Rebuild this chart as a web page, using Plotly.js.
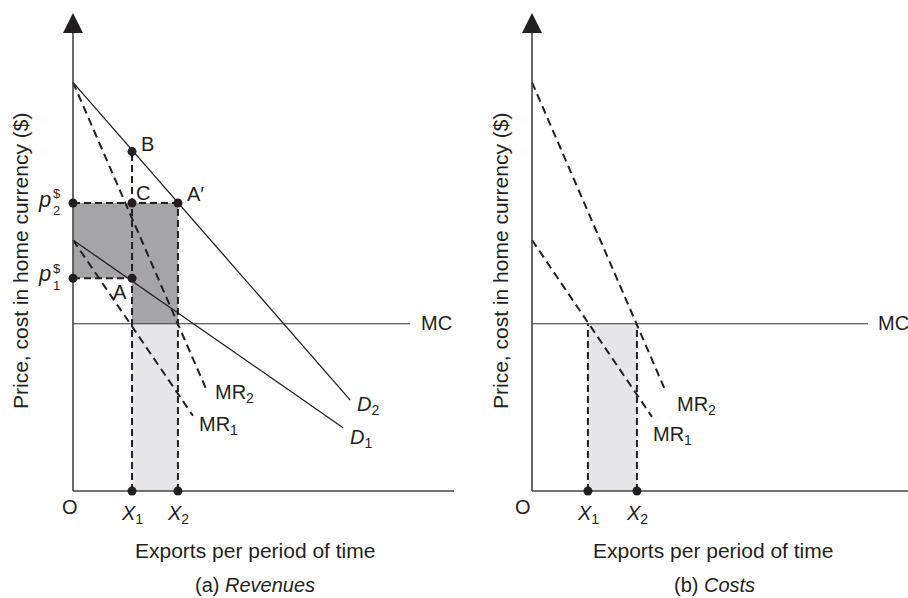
<!DOCTYPE html>
<html><head><meta charset="utf-8">
<script src="https://cdn.plot.ly/plotly-3.0.1.min.js"></script>
<style>html,body{margin:0;padding:0;background:#fff}#chart{width:908px;height:598px}</style>
</head><body><div id="chart"></div>
<script>
// ---------- data (diagram units) ----------
const axisTop = 20;          // length of price axis
const axisRight = 16;        // length of exports axis
const mcLevel = 7.0;         // marginal cost

// panel (a) Revenues
const aD2x = [0, 11.6],  aD2y = [17.1, 3.8];
const aD1x = [0, 11.3],  aD1y = [10.5, 2.65];
const aMR2x = [0, 5.6],  aMR2y = [17.1, 4.2];
const aMR1x = [0, 5.02], aMR1y = [10.5, 3.15];
const aMCx = [0, 14.1];
const aX1 = 2.47, aX2 = 4.39;
const p1 = 8.9, p2 = 12.05, pB = 14.2;

// panel (b) Costs
const bMR2x = [0, 5.56], bMR2y = [17.1, 4.25];
const bMR1x = [0, 5.02], bMR1y = [10.5, 3.1];
const bMCx = [0, 14.06];
const bX1 = 2.34, bX2 = 4.39;

// ---------- styling ----------
const W = 908, H = 598, K = 23.9;   // px per unit
const INK = '#231f20';
const FONT = 'Liberation Sans, Arial, Helvetica, sans-serif';
const DARK = '#a5a5a7', LIGHT = '#e6e6e8';

function solid(x, y, ax, w, c) {
  return {x, y, xaxis: ax[0], yaxis: ax[1], mode: 'lines', cliponaxis: false,
    line: {color: c || INK, width: w || 1.3}, hoverinfo: 'skip', showlegend: false};
}
function dashed(x, y, ax, dash) {
  return {x, y, xaxis: ax[0], yaxis: ax[1], mode: 'lines', cliponaxis: false,
    line: {color: INK, width: 2, dash: dash || '8px,5px'}, hoverinfo: 'skip', showlegend: false};
}
function fillPoly(x, y, ax, c) {
  return {x, y, xaxis: ax[0], yaxis: ax[1], mode: 'lines', fill: 'toself', fillcolor: c,
    line: {width: 0, color: c}, hoverinfo: 'skip', showlegend: false};
}
function dots(x, y, ax) {
  return {x, y, xaxis: ax[0], yaxis: ax[1], mode: 'markers', cliponaxis: false,
    marker: {color: INK, size: 9}, hoverinfo: 'skip', showlegend: false};
}
function axesTraces(ax) {
  return [
    {x: [0, 0, null, 0, axisRight], y: [axisTop - 0.5, 0, null, 0, 0], xaxis: ax[0], yaxis: ax[1],
      mode: 'lines', cliponaxis: false, line: {color: '#444', width: 1.6}, hoverinfo: 'skip', showlegend: false},
    {x: [0, axisRight], y: [axisTop, 0], xaxis: ax[0], yaxis: ax[1], mode: 'markers', cliponaxis: false,
      marker: {symbol: ['arrow-up', 'arrow-right'], size: 20, color: INK, line: {width: 0}},
      hoverinfo: 'skip', showlegend: false}
  ];
}

const A = ['x', 'y'], B = ['x2', 'y2'];
const traces = [
  // panel (a)
  fillPoly([aX1, aX2, aX2, aX1], [0, 0, mcLevel, mcLevel], A, LIGHT),
  fillPoly([0, aX2, aX2, aX1, aX1, 0], [p2, p2, mcLevel, mcLevel, p1, p1], A, DARK),
  solid(aMCx, [mcLevel, mcLevel], A, 1.1, '#333'),
  solid(aD2x, aD2y, A), solid(aD1x, aD1y, A),
  dashed(aMR2x, aMR2y, A), dashed(aMR1x, aMR1y, A),
  dashed([0, aX2, null, 0, aX1, null, aX1, aX1, null, aX2, aX2],
         [p2, p2, null, p1, p1, null, 0, pB, null, 0, p2], A, '7px,4px'),
  ...axesTraces(A),
  dots([0, aX1, aX2, 0, aX1, aX1, aX1, aX2], [p2, p2, p2, p1, p1, pB, 0, 0], A),
  // panel (b)
  fillPoly([bX1, bX2, bX2, bX1], [0, 0, mcLevel, mcLevel], B, LIGHT),
  solid(bMCx, [mcLevel, mcLevel], B, 1.1, '#333'),
  dashed(bMR2x, bMR2y, B), dashed(bMR1x, bMR1y, B),
  dashed([bX1, bX1, null, bX2, bX2], [0, mcLevel, null, 0, mcLevel], B, '7px,4px'),
  ...axesTraces(B),
  dots([bX1, bX2], [0, 0], B)
];

// annotations placed in page pixels
function T(text, px, py, size, xa, extra) {
  return Object.assign({text, xref: 'paper', yref: 'paper', x: px / W, y: 1 - py / H,
    xanchor: xa || 'center', yanchor: 'middle', showarrow: false,
    font: {family: FONT, size: size || 20, color: INK}}, extra || {});
}
function TX(text, xv, axName, py, size) {
  return {text, xref: axName, yref: 'paper', x: xv, y: 1 - py / H, xanchor: 'center', yanchor: 'middle',
    showarrow: false, font: {family: FONT, size: size || 20, color: INK}};
}

const annotations = [
  // panel (a)
  T('O', 70, 507, 20),
  TX('<i>X</i><sub>1</sub>', aX1, 'x', 514),
  TX('<i>X</i><sub>2</sub>', aX2, 'x', 514),
  T('B', 147, 144, 20), T('C', 143, 193, 20), T('A\u2032', 195, 194, 20), T('A', 120, 292, 20),
  T('<i>p</i>', 44, 199, 22, 'center', {borderpad: 0}),
  T('$<br>2', 56.5, 202, 13, 'center', {borderpad: 0}),
  T('<i>p</i>', 44, 274, 22, 'center', {borderpad: 0}),
  T('$<br>1', 56.5, 277, 13, 'center', {borderpad: 0}),
  T('MC', 419, 323, 20, 'left'),
  T('MR<sub>2</sub>', 213, 393, 20, 'left'),
  T('MR<sub>1</sub>', 197, 425, 20, 'left'),
  T('<i>D</i><sub>2</sub>', 355, 405, 20, 'left'),
  T('<i>D</i><sub>1</sub>', 348, 438, 20, 'left'),
  T('Exports per period of time', 255, 550, 21),
  T('(a) <i>Revenues</i>', 255, 585, 20),
  T('Price, cost in home currency ($)', 20, 261, 21, 'center', {textangle: -90}),
  // panel (b)
  T('O', 523, 507, 20),
  TX('<i>X</i><sub>1</sub>', bX1, 'x2', 514),
  TX('<i>X</i><sub>2</sub>', bX2, 'x2', 514),
  T('MC', 876, 323, 20, 'left'),
  T('MR<sub>2</sub>', 675, 405, 20, 'left'),
  T('MR<sub>1</sub>', 651, 435, 20, 'left'),
  T('Exports per period of time', 713, 550, 21),
  T('(b) <i>Costs</i>', 714, 585, 20),
  T('Price, cost in home currency ($)', 500, 261, 21, 'center', {textangle: -90})
];

const hidden = {visible: false, fixedrange: true};
const layout = {
  width: W, height: H, margin: {l: 0, r: 0, t: 0, b: 0},
  paper_bgcolor: '#fff', plot_bgcolor: 'rgba(0,0,0,0)', showlegend: false,
  xaxis: Object.assign({domain: [0, 0.5], range: [-73 / K, (454 - 73) / K], anchor: 'y'}, hidden),
  yaxis: Object.assign({domain: [0, 1], range: [-(H - 491) / K, 491 / K], anchor: 'x'}, hidden),
  xaxis2: Object.assign({domain: [0.5, 1], range: [-(532 - 454) / K, (908 - 532) / K], anchor: 'y2'}, hidden),
  yaxis2: Object.assign({domain: [0, 1], range: [-(H - 491) / K, 491 / K], anchor: 'x2'}, hidden),
  annotations
};

Plotly.newPlot('chart', traces, layout, {staticPlot: true, displayModeBar: false});
</script>
</body></html>
